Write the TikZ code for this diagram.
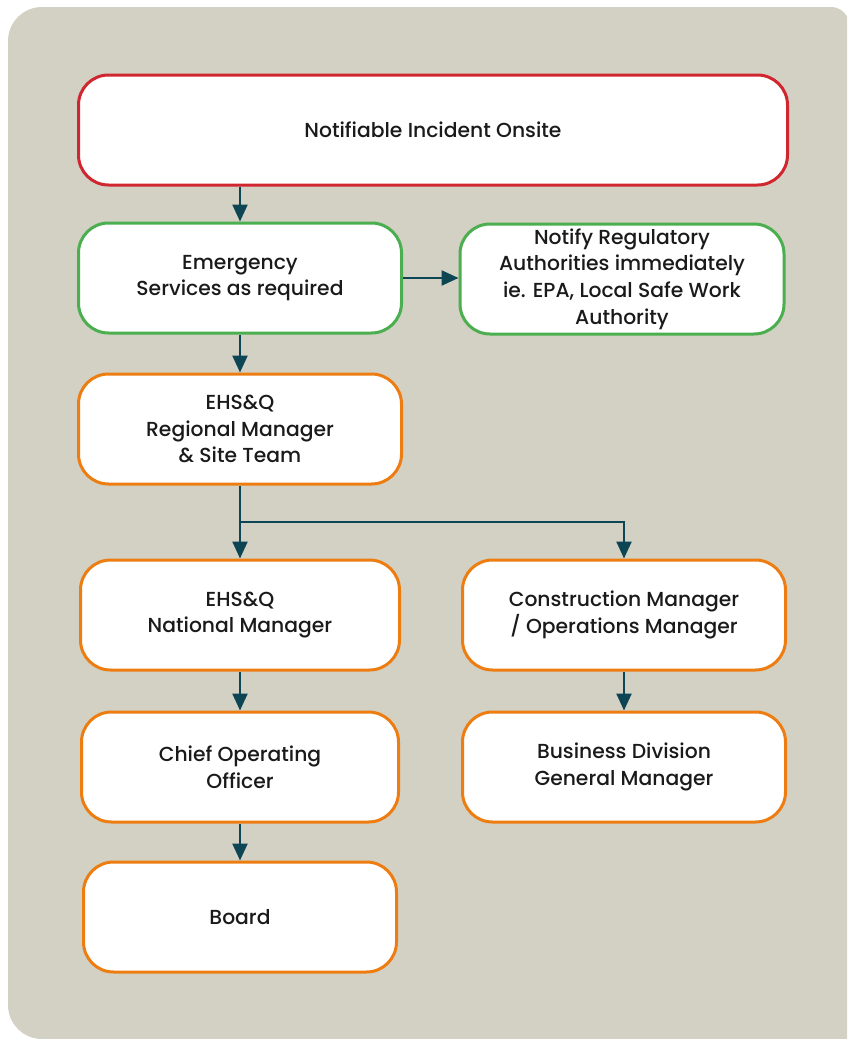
\documentclass[tikz,border=0pt]{standalone}
\usepackage{fontspec}
\setmainfont{Poppins}[UprightFont=* Medium]
\usepackage{xcolor}
\usepackage{tikz}
\usetikzlibrary{arrows.meta}
\definecolor{panel}{HTML}{D3D1C4}
\definecolor{alarm}{HTML}{D0262F}
\definecolor{safe}{HTML}{4BAE4F}
\definecolor{staff}{HTML}{EE7D11}
\definecolor{link}{HTML}{0E4555}
\definecolor{ink}{HTML}{1A1A1A}
\tikzset{
  box/.style={draw, fill=white, line width=3pt, rounded corners=30pt,
    minimum height=110pt, text=ink, align=center,
    font=\fontsize{20.3}{26.8}\selectfont},
  redbox/.style={box, draw=alarm},
  greenbox/.style={box, draw=safe},
  orangebox/.style={box, draw=staff},
  flow/.style={draw=link, line width=2.4pt, -{Triangle[length=17pt,width=15pt]}}
}

\begin{document}
\begin{tikzpicture}[x=1pt,y=-1pt]
\useasboundingbox (0,0) rectangle (847,1039);
\clip (0,0) rectangle (847,1039);
% panel
\fill[panel] (8,520) [rounded corners=34pt] -- (8,7) [rounded corners=18pt] -- (849,7)
  [rounded corners=3pt] -- (849,1039) [rounded corners=34pt] -- (8,1039) -- cycle;

% boxes
\node[redbox, minimum width=709pt] (incident) at (433,130) {Notifiable Incident Onsite};
\node[greenbox, minimum width=323pt] (emergency) at (240,278) {Emergency\\Services as required};
\node[greenbox, minimum width=324pt] (regulator) at (622,279) {Notify Regulatory\\Authorities immediately\\ie. EPA, Local Safe Work\\Authority};
\node[orangebox, minimum width=323pt] (regional) at (240,429) {EHS\&Q\\Regional Manager\\\& Site Team};
\node[orangebox, minimum width=319pt] (national) at (240,615) {EHS\&Q\\National Manager};
\node[orangebox, minimum width=323pt] (construction) at (624,615) {Construction Manager\\/ Operations Manager};
\node[orangebox, minimum width=317pt] (coo) at (240,767) {Chief Operating\\Officer};
\node[orangebox, minimum width=323pt] (division) at (624,767) {Business Division\\General Manager};
\node[orangebox, minimum width=313pt] (board) at (240,917) {Board};

% connectors
\coordinate (split) at (240,522);
\draw[flow] (incident.south -| emergency) -- (emergency);
\draw[flow] (emergency.east) -- (emergency.east -| regulator.west);
\draw[flow] (emergency) -- (regional);
\draw[flow] (regional) -- (national);
\draw[flow] (split) -| (construction);
\draw[flow] (national) -- (coo);
\draw[flow] (construction) -- (division);
\draw[flow] (coo) -- (board);
\end{tikzpicture}
\end{document}
